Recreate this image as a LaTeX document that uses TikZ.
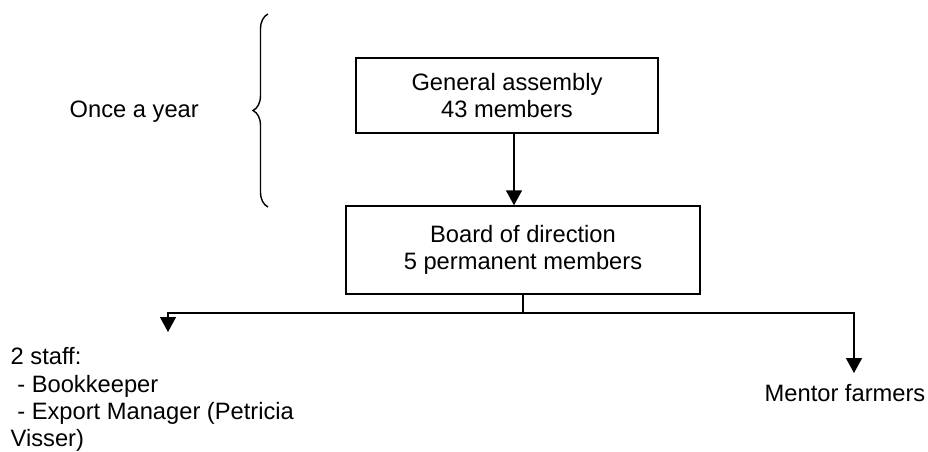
\documentclass[tikz,border=0pt]{standalone}
\usepackage{fontspec}
\setmainfont{Liberation Sans}
\usetikzlibrary{arrows.meta,decorations.pathreplacing,positioning,calc}

\begin{document}
\begin{tikzpicture}[x=0.5pt, y=-0.5pt, line width=0.7pt,
                    >={Triangle[width=8pt,length=7.5pt]},
                    font=\fontsize{11.85pt}{13.65pt}\selectfont,
                    box/.style={draw, rectangle, inner sep=0pt, align=center},
                    txt/.style={inner sep=0pt}]
\useasboundingbox (0,0) rectangle (928,451);
% boxes of the organisation
\node[box, minimum width=151pt, minimum height=37.5pt] (ga) at (507,95.5) {General assembly\\43 members};
\node[box, minimum width=177pt, minimum height=44pt]   (bd) at (523,250)  {Board of direction\\5 permanent members};

% free texts
\node[txt, anchor=base west]            (year)   at (69,117)  {Once a year};
\node[txt, anchor=north west, align=left] (staff) at (10,347)
     {2 staff:\\\hspace{0.28em}- Bookkeeper\\\hspace{0.28em}- Export Manager (Petricia\\Visser)};
\node[txt, anchor=north]                (mentor) at (845,384) {Mentor farmers};

% brace for the yearly meeting
\coordinate (btop) at (268,14);
\coordinate (bbot) at (268,207);
\draw[decorate, decoration={brace, amplitude=7.5pt}] (bbot) -- (btop);

% connectors
\coordinate (split)    at (523,313);
\coordinate (staffin)  at (168,332);
\coordinate (mentorin) at (854,373);
\draw[->] ([xshift=3.5pt]ga.south) -- ([xshift=3.5pt]ga.south |- bd.north);
\draw (bd.south) -- (split);
\draw[->] (split) -| (staffin);
\draw[->] (split) -| (mentorin);

\end{tikzpicture}
\end{document}
